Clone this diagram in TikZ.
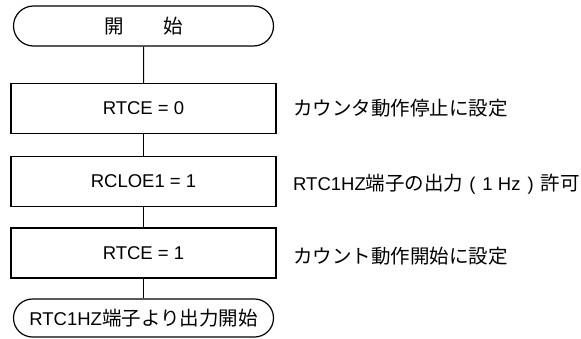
\documentclass[tikz,border=0pt]{standalone}
\usepackage{fontspec}
\setmainfont{Liberation Sans}
\newfontfamily\jpfont{Noto Sans CJK JP}
\newcommand{\J}[1]{{\jpfont\fontsize{19.5}{23}\selectfont #1}}
\usetikzlibrary{shapes.misc}
\begin{document}
\begin{tikzpicture}[x=1pt,y=-1pt,
  every node/.style={font=\fontsize{18.5}{22}\selectfont},
  term/.style={draw,line width=1.2pt,rounded rectangle,minimum width=260pt,inner sep=0pt},
  stepbox/.style={draw,line width=1.2pt,rectangle,minimum width=265pt,minimum height=50pt,inner sep=0pt},
  note/.style={anchor=west,inner sep=0pt},
  conn/.style={line width=1pt}]
\useasboundingbox (0,0) rectangle (581,338);
\node[term,minimum height=40pt] (start) at (143.5,26) {\J{開　　始}};
\node[stepbox] (b1) at (143.5,108.5) {RTCE = 0};
\node[stepbox] (b2) at (143.5,181.5) {RCLOE1 = 1};
\node[stepbox] (b3) at (143.5,253) {RTCE = 1};
\node[term,minimum height=38pt] (stop) at (143.5,318) {RTC1HZ\J{端子より出力開始}};
\node[note] (n1) at (293,108) {\J{カウンタ動作停止に設定}};
\node[note] (n2) at (293,184) {RTC1HZ\J{端子の出力}\hspace{6pt}(\hspace{7pt}1 Hz\hspace{7pt})\hspace{7pt}\J{許可}};
\node[note] (n3) at (293,256) {\J{カウント動作開始に設定}};
\draw[conn] (start) -- (b1);
\draw[conn] (b1) -- (b2);
\draw[conn] (b2) -- (b3);
\draw[conn] (b3) -- (stop);
\end{tikzpicture}
\end{document}
